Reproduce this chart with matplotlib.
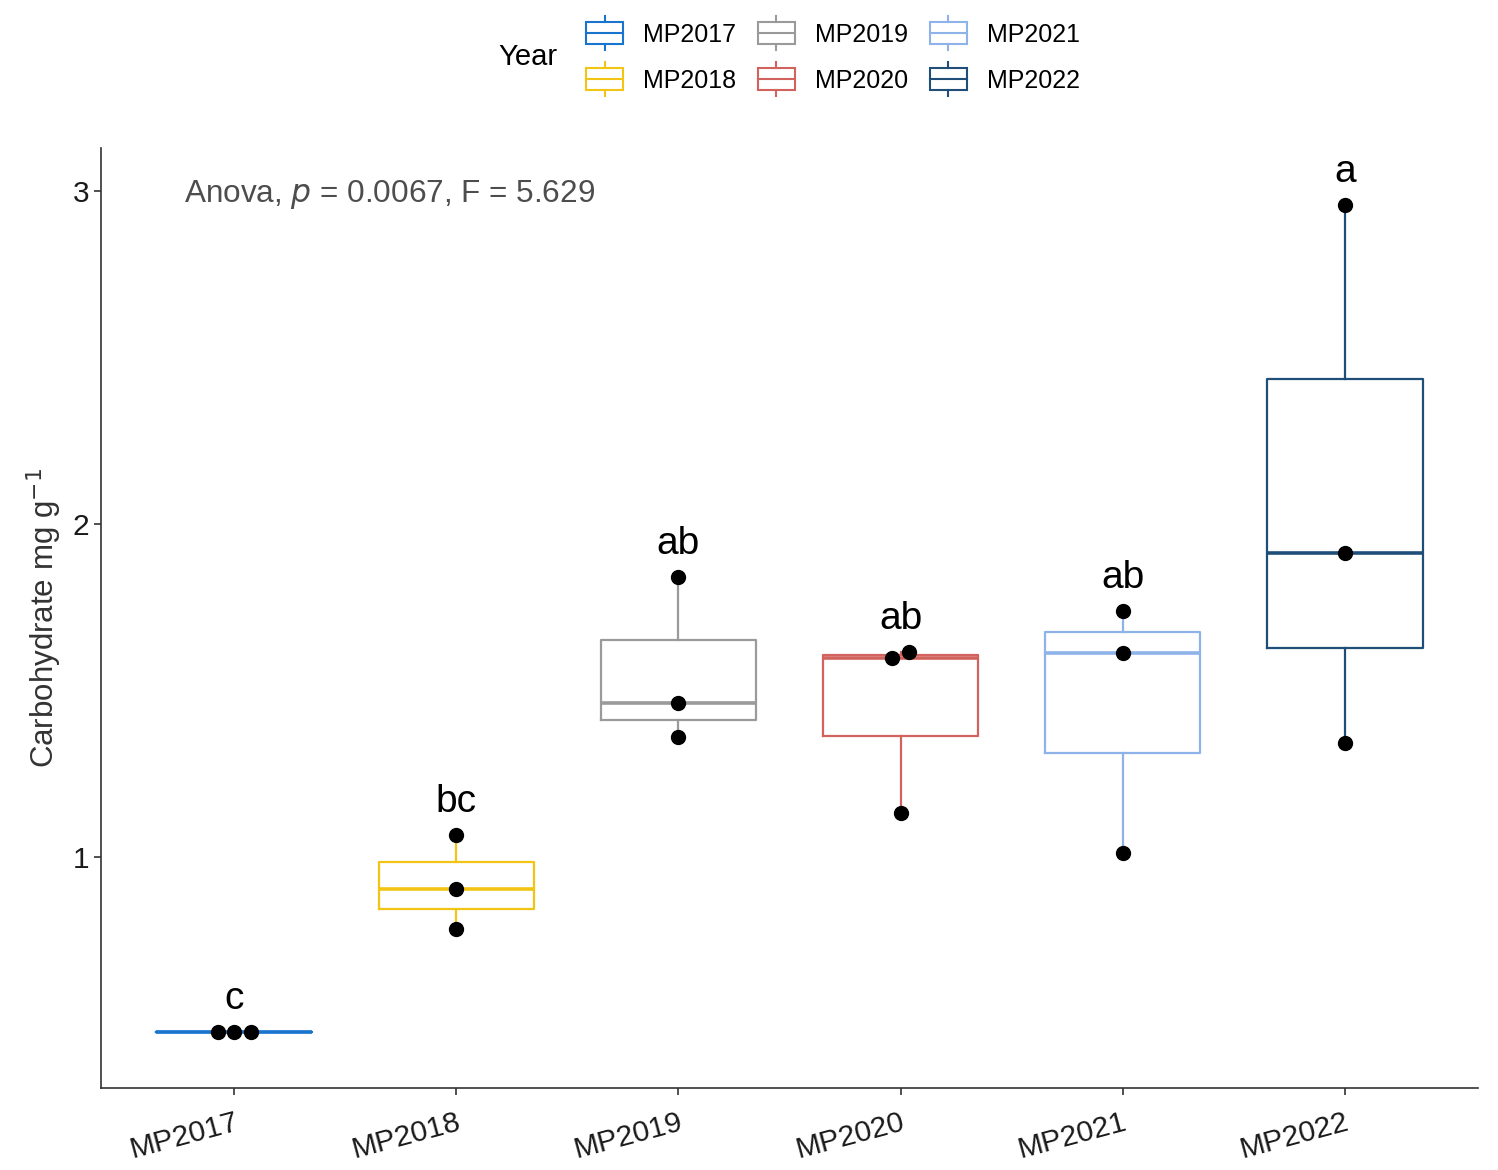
import matplotlib
matplotlib.use("Agg")
import matplotlib.pyplot as plt
import numpy as np
from matplotlib.legend_handler import HandlerBase
from matplotlib.patches import Rectangle
from matplotlib.lines import Line2D

plt.rcParams['font.family'] = ['Liberation Sans', 'DejaVu Sans']

# data
years = ["MP2017", "MP2018", "MP2019", "MP2020", "MP2021", "MP2022"]
mp2017 = [0.474, 0.474, 0.474]
mp2018 = [1.066, 0.904, 0.784]
mp2019 = [1.841, 1.462, 1.360]
mp2020 = [1.615, 1.597, 1.132]
mp2021 = [1.739, 1.613, 1.012]
mp2022 = [2.958, 1.913, 1.342]
letters = ["c", "bc", "ab", "ab", "ab", "a"]
anova_text = r"Anova, $\it{p}$ = 0.0067, F = 5.629"

groups = [mp2017, mp2018, mp2019, mp2020, mp2021, mp2022]
colors = ["#1874CD", "#F2C413", "#9A9A9A", "#D2625E", "#8DB3E8", "#1F4E79"]


class BoxHandler(HandlerBase):
    # draws a small boxplot key like ggplot's legend glyph
    def create_artists(self, legend, orig_handle, xdescent, ydescent,
                       width, height, fontsize, trans):
        c = orig_handle.get_color()
        x0 = -xdescent
        y0 = -ydescent
        w, h = width, height
        stub = h * 0.25
        art = [Rectangle((x0, y0), w, h, fill=False, ec=c, lw=1.5, transform=trans),
               Line2D([x0, x0 + w], [y0 + h / 2] * 2, color=c, lw=1.5, transform=trans),
               Line2D([x0 + w / 2] * 2, [y0 + h, y0 + h + stub], color=c, lw=1.5, transform=trans),
               Line2D([x0 + w / 2] * 2, [y0, y0 - stub], color=c, lw=1.5, transform=trans)]
        return art


fig = plt.figure(figsize=(14.98, 11.7), dpi=100)
ax = fig.add_axes([0.0674, 0.070, 0.9193, 0.8035])

pos = np.arange(1, len(years) + 1)
for i, (vals, col) in enumerate(zip(groups, colors)):
    ax.boxplot([vals], positions=[pos[i]], widths=0.7, whis=1.5,
               showfliers=False, patch_artist=False,
               boxprops=dict(color=col, lw=1.6),
               whiskerprops=dict(color=col, lw=1.6),
               capprops=dict(visible=False),
               medianprops=dict(color=col, lw=2.6))
    # spread points that sit on (nearly) the same value
    v = np.array(vals)
    order = np.argsort(v)
    offs = np.zeros(len(v))
    clusters = []
    for k in order:
        if clusters and abs(v[k] - v[clusters[-1][-1]]) < 0.05:
            clusters[-1].append(k)
        else:
            clusters.append([k])
    for cl in clusters:
        n = len(cl)
        for j, k in enumerate(cl):
            offs[k] = (j - (n - 1) / 2) * 0.075
    ax.plot(pos[i] + offs, v, 'o', color='black', ms=10, zorder=5)
    ax.text(pos[i], max(vals) + 0.1, letters[i], ha='center', va='center',
            fontsize=28, color='black')

ax.text(0.775, 2.99, anova_text, ha='left', va='center', fontsize=22.7, color='#4D4D4D')

ax.set_xlim(0.4, 6.6)
ax.set_ylim(0.306, 3.13)
ax.set_yticks([1, 2, 3])
ax.set_xticks(pos)
ax.set_xticklabels(years, rotation=15, ha='right', va='top', rotation_mode='anchor')
ax.tick_params(axis='both', labelsize=21.5, labelcolor='#1A1A1A', color='#333333',
               length=5, width=1.2)
ax.tick_params(axis='x', pad=9)
for s in ['top', 'right']:
    ax.spines[s].set_visible(False)
for s in ['left', 'bottom']:
    ax.spines[s].set_color('#333333')
    ax.spines[s].set_linewidth(1.2)
ax.set_ylabel("Carbohydrate mg g$^{-1}$", fontsize=22.5, color='#333333', labelpad=6)

handles = [Line2D([], [], color=c) for c in colors]
fig.legend(handles, years, handler_map={Line2D: BoxHandler()}, ncol=3,
           loc='center', bbox_to_anchor=(0.556, 0.951), frameon=False,
           fontsize=18, handlelength=1.5, handleheight=1.0,
           columnspacing=0.85, handletextpad=0.8, labelspacing=0.85)
fig.text(0.3525, 0.951, "Year", ha='center', va='center', fontsize=21, color='black')

fig.savefig("out.png", dpi=100)
